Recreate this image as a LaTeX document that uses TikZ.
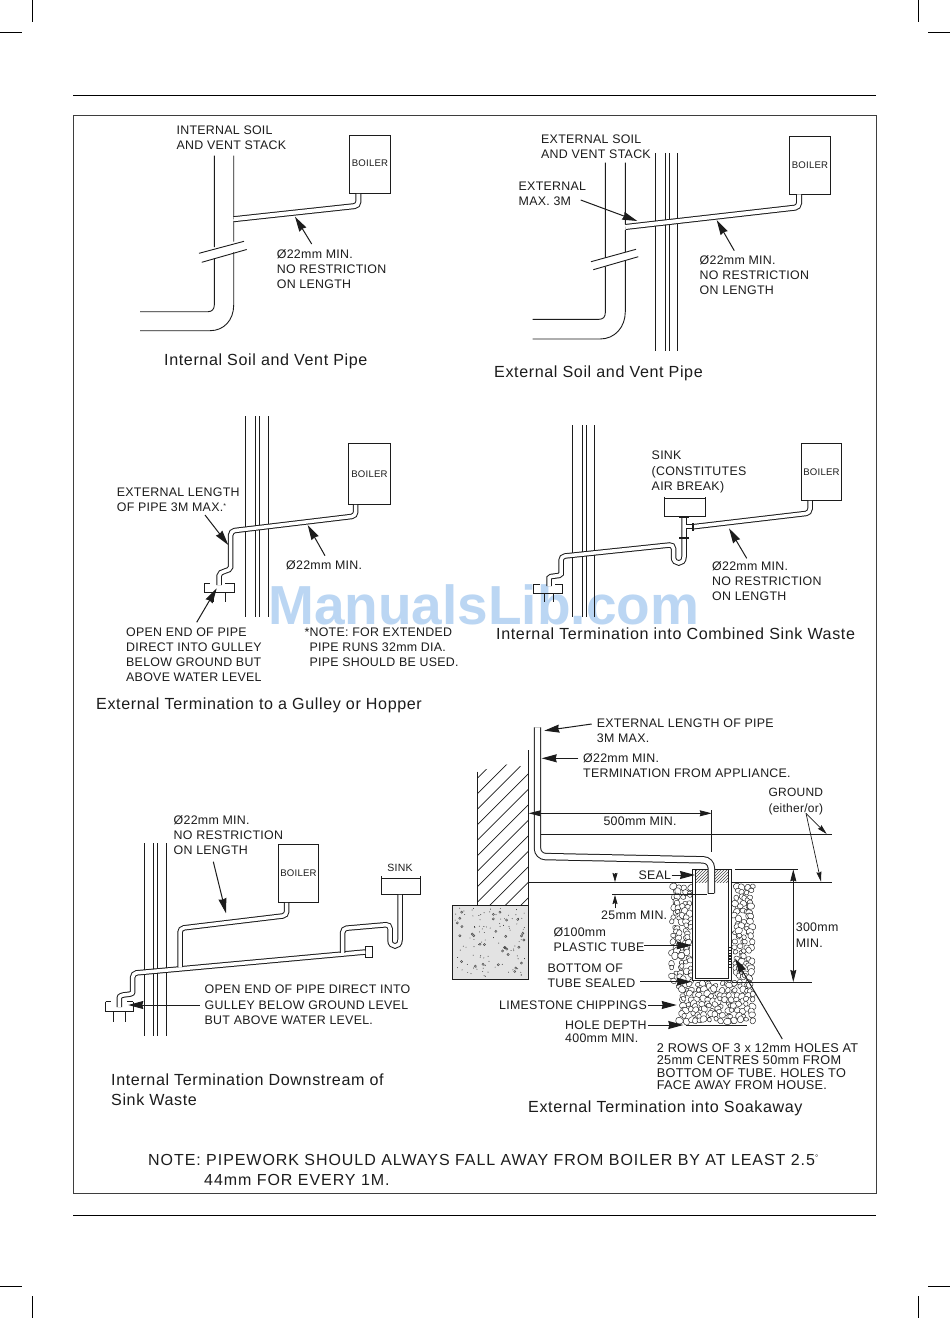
\documentclass[tikz,border=0pt]{standalone}
\usepackage{fontspec}
\setmainfont{Liberation Sans}
\newfontfamily\labfont[LetterSpace=2.2]{Liberation Sans}
\newfontfamily\capfont[LetterSpace=3.8]{Liberation Sans}
\newfontfamily\notefont[LetterSpace=5.9]{Liberation Sans}
\usetikzlibrary{arrows.meta,patterns}
\definecolor{ink}{HTML}{1C1C1C}
\definecolor{wmark}{HTML}{BBD6F3}
\tikzset{
  lab/.style={anchor=north west,inner sep=0pt,align=left,text=ink,font=\labfont\fontsize{12.4}{15.2}\selectfont},
  title/.style={anchor=north west,inner sep=0pt,align=left,text=ink,font=\capfont\fontsize{16.1}{20}\selectfont},
  heatbox/.style={draw=ink,line width=.9pt,inner sep=0pt,text=ink,font=\labfont\fontsize{9.6}{11}\selectfont},
  thin line/.style={draw=ink,line width=.9pt},
  pipe/.style={draw=ink,line width=1pt,double=white,double distance=3.5pt,line cap=butt,rounded corners=4pt},
  leader/.style={draw=ink,line width=1pt,-{Stealth[length=15pt,width=8pt,inset=1pt]}},
  fineleader/.style={draw=ink,line width=.7pt,-{Stealth[length=10pt,width=5pt,inset=1pt]}},
  dimarrow/.style={draw=ink,line width=.8pt,{Stealth[length=12pt,width=6pt,inset=1pt]}-{Stealth[length=12pt,width=6pt,inset=1pt]}},
  peb/.style={draw=ink,line width=.45pt,fill=white,rounded corners=1pt},
  crop/.style={draw=black,line width=.8pt},
}
\newcommand{\leaderline}[6][leader]{%
  \coordinate (#2-a) at (#3);\coordinate (#2-b) at (#4,#5);%
  \draw[#1] (#2-a) -- (#2-b);#6}
\newcommand{\pebble}[2]{%
  \pgfmathsetmacro\ra{rnd*360}\pgfmathsetmacro\sa{.62+rnd*.38}\pgfmathsetmacro\jx{#1+rand*2.8}\pgfmathsetmacro\jy{#2+rand*1.8}%
  \draw[peb,shift={(\jx,\jy)},rotate=\ra,scale=\sa] (-4,-1)--(-2,-3.5)--(1.5,-3)--(4,-.5)--(3,2.5)--(-.5,3.5)--(-3.5,2)--cycle;}
\begin{document}
\begin{tikzpicture}[x=1pt,y=-1pt]
\useasboundingbox (0,0) rectangle (950,1318);
\fill[white] (0,0) rectangle (950,1318);
% watermark
\node[anchor=base west,inner sep=0pt,text=wmark,font=\fontsize{55}{60}\selectfont\bfseries] (wm) at (268,624) {ManualsLib.com};
% crop marks and frame
\draw[crop] (32,0)--(32,22) (0,32)--(22,32) (918,0)--(918,22) (928,32)--(950,32);
\draw[crop] (32,1296)--(32,1318) (0,1286)--(22,1286) (918,1296)--(918,1318) (928,1286)--(950,1286);
\draw[crop] (73,95)--(876,95) (73,1215)--(876,1215);
\draw[draw=ink!85,line width=.7pt] (73,115) rectangle (876,1193);

% ---------- 1 Internal soil and vent pipe
\node[lab] (t1a) at (176.4,125.5) {INTERNAL SOIL\\AND VENT STACK};
\node[heatbox,minimum width=40.6pt,minimum height=57.6pt] (boiler1) at (370,164.5) {\raisebox{2pt}{BOILER}};
\draw[thin line] (214.3,155.7)--(214.3,247.2) (214.3,258)--(214.3,305)
   .. controls (214.3,309) and (212,311.7) .. (208,311.7)--(140,311.7);
\draw[thin line] (233.7,155.7)--(233.7,241.5) (233.7,252)--(233.7,305)
   .. controls (233.7,320) and (224,330.7) .. (210,330.7)--(140,330.7);
\draw[thin line] (199,253.3)--(244,241.3) (201.7,262.3)--(246.7,249.5);
\fill[white] (232.8,218.5) rectangle (234.6,220.5);
\draw[pipe,double distance=4pt] ([xshift=-11.6pt]boiler1.south) -- (358.4,205.7) -- (233.7,219.2);
\node[lab] (t1b) at (276.7,249.5) {Ø22mm MIN.\\NO RESTRICTION\\ON LENGTH};
\leaderline{a1}{311.7,244}{295}{216.7}{}
\node[title] (c1) at (164,353.5) {Internal Soil and Vent Pipe};

% ---------- 2 External soil and vent pipe
\node[lab] (t2a) at (541,134.5) {EXTERNAL SOIL\\AND VENT STACK};
\node[lab] (t2b) at (518.5,182) {EXTERNAL\\MAX. 3M};
\draw[thin line] (655.7,153.3)--(655.7,351) (665.7,153.3)--(665.7,351) (669.7,153.3)--(669.7,351) (677.3,153.3)--(677.3,351);
\node[heatbox,minimum width=41.4pt,minimum height=57.4pt] (boiler2) at (810,165.3) {\raisebox{-2pt}{BOILER}};
\draw[thin line] (605.3,162.7)--(605.3,257.8) (605.3,266.5)--(605.3,312.7)
   .. controls (605.3,317) and (603,319.3) .. (599,319.3)--(532.7,319.3);
\draw[thin line] (625.3,162.7)--(625.3,224) (625.3,230)--(625.3,252) (625.3,260)--(625.3,311.7)
   .. controls (625.3,327) and (615,339) .. (600,339)--(532.7,339);
\draw[thin line] (591,261.7)--(636,249.3) (593.3,269.7)--(638.3,256.7);
\draw[pipe,double distance=4pt] ([xshift=-11pt]boiler2.south) -- (799,207.2) -- (625.3,227);
\node[lab] (t2c) at (699.5,255.5) {Ø22mm MIN.\\NO RESTRICTION\\ON LENGTH};
\leaderline{a2}{580.7,200}{637.3}{221}{}
\leaderline{a3}{734.3,250.7}{716.7}{220}{}
\node[title] (c2) at (494,365.5) {External Soil and Vent Pipe};

% ---------- 3 Gulley
\draw[thin line] (245.3,416)--(245.3,617.3) (255.3,416)--(255.3,617.3) (259.3,416)--(259.3,617.3) (268.3,416)--(268.3,617.3);
\node[heatbox,minimum width=41.6pt,minimum height=61pt] (boiler3) at (369.5,473.8) {\raisebox{-3pt}{BOILER}};
\draw[thin line] (204.3,583.3)--(204.3,592.7)--(234.3,592.7)--(234.3,583.3)
  (204.3,583.3)--(210,583.3) (225,583.3)--(234.3,583.3) (213.3,592.7)--(213.3,602) (225,592.7)--(225,602);
\draw[pipe] ([xshift=-13.8pt]boiler3.south) -- (355.7,516) -- (230.7,531) -- (230.7,563)
   .. controls (230.7,572) and (219,570) .. (219,580) -- (219,585);
\node[lab] (t3a) at (116.7,487.8) {EXTERNAL LENGTH\\OF PIPE 3M MAX.\raisebox{3pt}{\scriptsize *}};
\node[lab] (t3b) at (286,560.5) {Ø22mm MIN.};
\node[lab] (t3c) at (126,627.5) {OPEN END OF PIPE\\DIRECT INTO GULLEY\\BELOW GROUND BUT\\ABOVE WATER LEVEL};
\node[lab] (t3d) at (304.3,627.5) {*NOTE: FOR EXTENDED\\\hspace{5pt}PIPE RUNS 32mm DIA.\\\hspace{5pt}PIPE SHOULD BE USED.};
\leaderline{a4}{205,515}{228.3}{545}{}
\leaderline{a5}{325,555.7}{307.7}{525}{}
\leaderline{a6}{196.7,622.3}{216.7}{588.3}{}
\node[title] (c3) at (96,697.5) {External Termination to a Gulley or Hopper};

% ---------- 4 Combined sink waste
\draw[thin line] (572.3,425)--(572.3,616.7) (582.3,425)--(582.3,616.7) (586,425)--(586,616.7) (594.7,425)--(594.7,616.7);
\node[heatbox,minimum width=40.4pt,minimum height=57pt] (boiler4) at (821.5,471.8) {BOILER};
\draw[thin line] (664.3,496.7)--(664.3,516)--(705.7,516)--(705.7,496.7) (664.3,498.3)--(705.7,498.3);
\draw[thin line] (533.3,584)--(533.3,593.3)--(562.7,593.3)--(562.7,584)
  (533.3,584)--(540,584) (555,584)--(562.7,584) (544.3,593.3)--(544.3,602) (553.3,593.3)--(553.3,602);
\draw[pipe] ([xshift=-11.5pt]boiler4.south) -- (810,513) -- (693.3,526.7);
\draw[pipe] (684,517.5) -- (684,553) .. controls (684,565) and (673.5,565) .. (673.5,553) -- (673.5,544.6)
   -- (561,556.4) -- (561,570) .. controls (561,577) and (549,575) .. (549,582) -- (549,585.5);
\draw[draw=ink,line width=1.8pt] (679.3,517)--(688.7,517) (679.3,537.7)--(688.7,537.7);
\draw[pipe,rounded corners=0pt] (686,526.7)--(693,526.7);
\draw[draw=ink,line width=1.5pt] (693,523)--(693,530.5);
\node[lab] (t4a) at (651.5,451) {SINK\\(CONSTITUTES\\AIR BREAK)};
\node[lab] (t4b) at (712,561.5) {Ø22mm MIN.\\NO RESTRICTION\\ON LENGTH};
\leaderline{a7}{746.7,558.3}{729}{528.3}{}
\node[title] (c4) at (496,627.5) {Internal Termination into Combined Sink Waste};

% ---------- 5 Downstream of sink waste
\draw[thin line] (144.7,843.3)--(144.7,1036) (153.7,843.3)--(153.7,1036) (157.7,843.3)--(157.7,1036) (166.7,843.3)--(166.7,1036);
\node[heatbox,minimum width=40.4pt,minimum height=58pt] (boiler5) at (298.5,873.3) {BOILER};
\draw[thin line] (381,876)--(381,894.3)--(420.7,894.3)--(420.7,876) (381,878.3)--(420.7,878.3);
\node[inner sep=0pt,text=ink,font=\labfont\fontsize{10.5}{12}\selectfont] (sink5) at (400,868.3) {SINK};
\draw[thin line] (105.7,1001.7)--(105.7,1011.7)--(133.3,1011.7)--(133.3,1001.7)
  (105.7,1001.7)--(111,1001.7) (127,1001.7)--(133.3,1001.7) (113.3,1011.7)--(113.3,1021.7) (125,1011.7)--(125,1021.7);
\node[draw=ink,line width=.8pt,fill=white,minimum width=6.6pt,minimum height=10.6pt,inner sep=0pt] (cap5) at (369,952) {};
\draw[pipe] (cap5.west) -- (132.7,973.2) -- (132.7,988)
   .. controls (132.7,996) and (119.3,993) .. (119.3,1002) -- (119.3,1007);
\draw[pipe] ([xshift=-11.8pt]boiler5.south) -- (286.7,915.5) -- (180,928.3) -- (180,967);
\draw[pipe] (400,894.8) -- (400,936) .. controls (400,948) and (390,948) .. (390,936) -- (390,924.4)
   -- (342.7,928.5) -- (342.7,952.8);
\node[lab] (t5a) at (173.5,815) {Ø22mm MIN.\\NO RESTRICTION\\ON LENGTH};
\node[lab] (t5b) at (204.5,985) {OPEN END OF PIPE DIRECT INTO\\GULLEY BELOW GROUND LEVEL\\BUT ABOVE WATER LEVEL.};
\leaderline{a8}{213.3,861.7}{226}{913.3}{}
\leaderline{a9}{200,1005}{128.3}{1005}{}
\node[title] (c5) at (111,1074) {Internal Termination Downstream of\\Sink Waste};

% ---------- 6 Soakaway
\begin{scope}
\clip (477.3,771.7)--(502,765)--(516,763.5)--(528.3,771)--(528.3,905)--(477.3,905)--cycle;
\foreach \k in {0,...,14} \draw[draw=ink,line width=.7pt] (470,{770+\k*15.5})--(540,{700+\k*15.5});
\end{scope}
\draw[thin line] (477.3,771.7)--(477.3,905) (528.3,750)--(528.3,905);
\node[draw=ink,line width=.9pt,fill=black!11,minimum width=76.4pt,minimum height=74.3pt,inner sep=0pt] (conc) at (490.5,942.2) {};
\pgfmathsetseed{2718}
\foreach \k in {1,...,95}{\pgfmathsetmacro\px{455+rnd*71}\pgfmathsetmacro\py{908+rnd*69}\fill[ink] (\px,\py) circle (.45pt);}
\foreach \k in {1,...,32}{\pgfmathsetmacro\px{457+rnd*67}\pgfmathsetmacro\py{910+rnd*65}\draw[ink!80,line width=.5pt] (\px,\py) circle (1.1pt);}
% chippings
\begin{scope}
\clip (660,883) rectangle (765,1025);
\pgfmathsetseed{31415}
\foreach \yy in {887,892,...,984}{\foreach \xx in {674,679,684,689}{\pebble{\xx}{\yy}}}
\foreach \yy in {887,892,...,984}{\foreach \xx in {736,741,746,751}{\pebble{\xx}{\yy}}}
\foreach \yy in {985,990,...,1023}{\foreach \xx in {681,686,...,753}{\pebble{\xx}{\yy}}}
\end{scope}
% tube
\fill[white] (692.3,869.3) rectangle (731,980.7);
\fill[pattern=north east lines,pattern color=ink!80] (695,869.3) rectangle (708.3,882.7);
\fill[pattern=north east lines,pattern color=ink!80] (714.3,869.3) rectangle (728.3,882.7);
\draw[thin line] (692.3,869.3)--(692.3,980.7)--(731,980.7)--(731,869.3)--(692.3,869.3);
\draw[thin line] (695,869.3)--(695,978)--(728.3,978)--(728.3,869.3);
\draw[draw=ink,line width=1.6pt,dash pattern=on 1.4pt off 1.4pt] (729.7,947)--(729.7,967);
% ground and dimension lines
\draw[thin line] (540.7,834.3)--(831.7,834.3) (528.3,882.3)--(692.3,882.3) (731.7,882.3)--(831.7,882.3);
\draw[thin line] (711.7,810)--(711.7,852);
\draw[thin line] (735,869.3)--(797.7,869.3) (731.7,982.3)--(811.7,982.3) (612.3,894)--(706.7,894) (685.7,1025)--(746.7,1025);
% pipe
\draw[pipe,double distance=5.4pt,rounded corners=8pt] (537.5,727.3)--(537.5,856.4)--(711.3,860)--(711.3,893.3);
\draw[thin line] (708.3,893.3)--(714.3,893.3);
% dimensions
\coordinate (d1a) at (528.7,813.3);\coordinate (d1b) at (711.7,813.3);
\draw[dimarrow] (d1a)--(d1b);
\coordinate (d2a) at (793.3,869.3);\coordinate (d2b) at (793.3,982);
\draw[dimarrow] (d2a)--(d2b);
\leaderline[draw=ink,line width=.7pt,-{Stealth[length=9pt,width=5pt,inset=1pt]}]{d3}{615,873}{615}{882}{}
\leaderline[draw=ink,line width=.7pt,-{Stealth[length=9pt,width=5pt,inset=1pt]}]{d4}{615,908.3}{615}{895}{}
% labels
\node[lab] (t6a) at (596.7,718.5) {EXTERNAL LENGTH OF PIPE\\3M MAX.};
\node[lab] (t6b) at (583,753) {Ø22mm MIN.\\TERMINATION FROM APPLIANCE.};
\node[lab,font=\labfont\fontsize{12}{16}\selectfont] (t6c) at (768.3,787.5) {GROUND\\(either/or)};
\node[lab] (t6d) at (603.3,816.5) {500mm MIN.};
\node[lab] (t6e) at (638.3,871) {SEAL};
\node[lab] (t6f) at (601,910.5) {25mm MIN.};
\node[lab] (t6g) at (553.3,927) {Ø100mm\\PLASTIC TUBE};
\node[lab] (t6h) at (547.3,963.5) {BOTTOM OF\\TUBE SEALED};
\node[lab] (t6i) at (499,1000.5) {LIMESTONE CHIPPINGS};
\node[lab,font=\labfont\fontsize{12.4}{12.8}\selectfont] (t6j) at (565,1021) {HOLE DEPTH\\400mm MIN.};
\node[lab,font=\labfont\fontsize{12.7}{12.6}\selectfont] (t6k) at (656.7,1043) {2 ROWS OF 3 x 12mm HOLES AT\\25mm CENTRES 50mm FROM\\BOTTOM OF TUBE. HOLES TO\\FACE AWAY FROM HOUSE.};
\node[lab] (t6l) at (795.7,923) {300mm\\MIN.};
\leaderline{a10}{591.7,724}{544.3}{730.7}{}
\leaderline{a11}{578.3,758.3}{541.7}{758.3}{}
\leaderline[fineleader]{a12}{806,813.3}{826.7}{834}{}
\leaderline[fineleader]{a13}{806,813.3}{821}{881.7}{}
\leaderline{a14}{671.7,875}{695}{875}{}
\leaderline{a15}{644.3,945.3}{691.7}{945.3}{}
\leaderline{a16}{640,981.7}{691.7}{981.7}{}
\leaderline{a17}{648.3,1005}{676.7}{1005}{}
\leaderline{a18}{648.3,1025}{683.3}{1025}{}
\leaderline{a19}{782.3,1039}{735}{958.3}{}
\node[title] (c6) at (528,1101) {External Termination into Soakaway};

% ---------- note
\node[title,font=\notefont\fontsize{16}{20}\selectfont] (note) at (148,1154) {NOTE: PIPEWORK SHOULD ALWAYS FALL AWAY FROM BOILER BY AT LEAST 2.5\raisebox{5pt}{\footnotesize °}\\\hspace{56pt}44mm FOR EVERY 1M.};
\end{tikzpicture}
\end{document}
